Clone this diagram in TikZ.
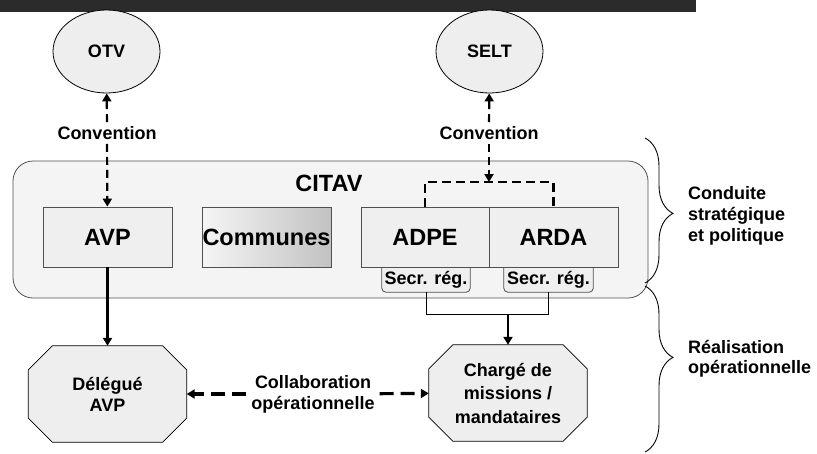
\documentclass[tikz,border=0pt]{standalone}
\usepackage{fontspec}
\setmainfont{Liberation Sans}
\usetikzlibrary{arrows.meta,decorations.pathreplacing,shapes.geometric}
\pgfdeclarelayer{back}
\pgfdeclarelayer{background}
\pgfsetlayers{back,background,main}
\definecolor{barcol}{HTML}{2B2B2B}
\definecolor{boxfill}{HTML}{EFEFEF}
\definecolor{contfill}{HTML}{F4F4F4}
\definecolor{ellfill}{HTML}{EEEEEE}
\definecolor{edgecol}{HTML}{505050}
\begin{document}
\begin{tikzpicture}[x=1pt,y=-1pt,
  txt/.style={font=\bfseries\fontsize{18}{21}\selectfont, inner sep=0pt, align=center},
  bigtxt/.style={font=\bfseries\fontsize{23.5}{26}\selectfont, inner sep=0pt, align=center},
  ell/.style={ellipse, draw=black, line width=0.8pt, fill=ellfill, minimum width=107pt, minimum height=83pt, inner sep=0pt, txt},
  unit/.style={rectangle, draw=edgecol, line width=0.8pt, fill=boxfill, minimum width=129pt, minimum height=60pt, bigtxt},
  secr/.style={rectangle, minimum height=25pt, inner sep=0pt, font=\bfseries\fontsize{18}{20}\selectfont},
  secrbox/.style={draw=edgecol, line width=0.8pt, fill=boxfill},
  octnode/.style={rectangle, minimum width=158pt, minimum height=96pt, inner sep=0pt, txt},
  octo/.style={draw=black, line width=0.8pt, fill=ellfill},
  lbl/.style={txt, fill=white, inner sep=4pt},
  dconn/.style={line width=2.2pt, dash pattern=on 8pt off 5pt},
  bconn/.style={line width=2.2pt, dash pattern=on 9pt off 5pt},
  cconn/.style={line width=3.2pt, dash pattern=on 14pt off 7pt},
  sconn/.style={line width=2.4pt},
  tip/.tip={Triangle[length=8pt,width=9pt]},
  brc/.style={decorate, line width=0.9pt}
]
\useasboundingbox (0,0) rectangle (817,453);
% top bar
\fill[barcol] (0,0) rectangle (696,12);

% container
\begin{pgfonlayer}{back}
\node[draw=edgecol, line width=0.8pt, fill=contfill, rounded corners=20pt, minimum width=635pt, minimum height=137pt] (citav) at (330.5,229.5) {};
\end{pgfonlayer}
\node[bigtxt] (citavlbl) at (329,183) {CITAV};

% external partners
\node[ell] (otv) at (106.5,51.5) {OTV};
\node[ell] (selt) at (489.5,51.5) {SELT};

% units
\node[unit] (avp) at (107.5,237) {AVP};
\node[unit, shading=axis, left color=white!96!black, right color=white!76!black] (com) at (266.5,237) {Communes};
\node[unit, minimum width=128pt] (adpe) at (425,237) {ADPE};
\node[unit] (arda) at (553.5,237) {ARDA};

% secretariats
\node[secr, minimum width=88pt] (s1) at (426,279.5) {Secr. rég.};
\node[secr, minimum width=89pt] (s2) at (548.5,279.5) {Secr. rég.};
\begin{pgfonlayer}{background}
\foreach \n in {s1,s2}
  \draw[secrbox] (\n.north west) [rounded corners=4pt] -- (\n.south west) -- (\n.south east) [sharp corners] -- (\n.north east) -- cycle;
\end{pgfonlayer}

% operational nodes
\node[octnode] (del) at (107.5,394) {Délégué\\AVP};
\node[octnode, font=\bfseries\fontsize{18}{23.5}\selectfont] (chg) at (508,393) {Chargé de\\missions /\\mandataires};
\begin{pgfonlayer}{background}
\foreach \n in {del,chg}
  \draw[octo] ([xshift=24pt]\n.north west) -- ([xshift=-24pt]\n.north east) -- ([yshift=-24pt]\n.north east) -- ([yshift=24pt]\n.south east) -- ([xshift=-24pt]\n.south east) -- ([xshift=24pt]\n.south west) -- ([yshift=24pt]\n.south west) -- ([yshift=-24pt]\n.north west) -- cycle;
\end{pgfonlayer}

% convention links
\node[lbl] (conv1) at (107,133) {Convention};
\node[lbl] (conv2) at (489,133) {Convention};
\coordinate (jtop) at (489,182);
\draw[dconn,-tip] (conv1) -- (otv);
\draw[dconn,-tip] (conv1) -- (avp);
\draw[dconn,-tip] (conv2) -- (selt);
\draw[dconn,-tip] (conv2) -- (jtop);
\draw[bconn] (adpe.north) |- (jtop) -| (arda.north);

% hierarchy links
\draw[sconn,-tip] (avp) -- (del);
\coordinate (jn) at (508,314);
\draw[line width=0.9pt] (s1.south) -- (s1.south |- jn) -- (s2.south |- jn) -- (s2.south);
\draw[sconn,-tip] (jn) -- (chg);

% collaboration
\node[lbl, inner sep=5pt] (collab) at (313,394) {Collaboration\\opérationnelle};
\draw[cconn,-tip] (collab) -- (del);
\draw[cconn,-tip] (collab) -- (chg);

% braces
\coordinate (b1t) at (645,138);
\coordinate (b1b) at (645,283);
\coordinate (b2t) at (645,286);
\coordinate (b2b) at (645,452);
\draw[brc, decoration={brace, amplitude=28pt, aspect=0.52}] (b1t) -- (b1b);
\draw[brc, decoration={brace, amplitude=28pt, aspect=0.43}] (b2t) -- (b2b);
\node[txt, anchor=west, align=left] (cond) at (688,216) {Conduite\\stratégique\\et politique};
\node[txt, anchor=west, align=left, font=\bfseries\fontsize{18}{20}\selectfont] (real) at (688,359) {Réalisation\\opérationnelle};
\end{tikzpicture}
\end{document}
